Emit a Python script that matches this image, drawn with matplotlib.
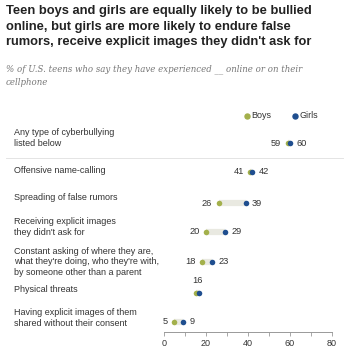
import matplotlib
matplotlib.use("Agg")
import matplotlib.pyplot as plt

categories = [
    "Any type of cyberbullying\nlisted below",
    "Offensive name-calling",
    "Spreading of false rumors",
    "Receiving explicit images\nthey didn't ask for",
    "Constant asking of where they are,\nwhat they're doing, who they're with,\nby someone other than a parent",
    "Physical threats",
    "Having explicit images of them\nshared without their consent",
]
boys = [59, 41, 26, 20, 18, 16, 5]
girls = [60, 42, 39, 29, 23, 16, 9]
xticks = [0, 20, 40, 60, 80]

BOY_C = "#a3b04b"
GIRL_C = "#1f4e8f"
LINE_C = "#e9e9e1"
TXT = "#333333"

W = H = 350
fig = plt.figure(figsize=(3.5, 3.5), dpi=100)
fig.patch.set_facecolor("white")

def fx(px):
    return px / W

def fy(py):
    return 1 - py / H

# axes geometry (pixels)
ax_left, ax_right = 164, 331.7
ax_bottom_px, ax_top_px = 332, 130
row_px = [143, 172, 203, 232, 262, 293, 322]
label_px = [138, 170, 197, 227, 262, 289, 318]
n = len(categories)
row_top_px, row_bot_px = row_px[0], row_px[-1]
step = (row_bot_px - row_top_px) / (n - 1)
ylo = -(ax_bottom_px - row_bot_px) / step
yhi = (n - 1) + (row_top_px - ax_top_px) / step

def ydata(py):
    return (n - 1) - (py - row_top_px) / step

ax = fig.add_axes([fx(ax_left), fy(ax_bottom_px), fx(ax_right - ax_left),
                   (ax_bottom_px - ax_top_px) / H])
ax.set_xlim(0, 80)
ax.set_ylim(ylo, yhi)
ax.patch.set_alpha(0)
for s in ["top", "right", "left"]:
    ax.spines[s].set_visible(False)
ax.spines["bottom"].set_color("#999999")
ax.spines["bottom"].set_linewidth(0.7)
ax.set_yticks([])
ax.set_xticks(xticks)
ax.set_xticks(range(0, 81, 10), minor=True)
ax.tick_params(axis="x", which="both", length=3, width=0.6, color="#999999",
               labelsize=6.5, labelcolor=TXT, pad=2)
for lab in ax.get_xticklabels():
    lab.set_fontfamily("Liberation Sans")

fs = 6.5
for i, (cat, b, g) in enumerate(zip(categories, boys, girls)):
    y = ydata(row_px[i])
    # when values tie, nudge the two dots apart so both stay visible
    jit = 0.5 if b == g else 0.0
    bx, gx = b - jit, g + jit
    lo, hi = min(bx, gx), max(bx, gx)
    ax.plot([lo, hi], [y, y], color=LINE_C, lw=4.5, solid_capstyle="butt", zorder=1)
    ax.scatter([bx], [y], s=16, color=BOY_C, zorder=3, linewidths=0)
    ax.scatter([gx], [y], s=16, color=GIRL_C, zorder=4, linewidths=0)
    if b == g:
        ax.text(b, y + 0.28, f"{b}", ha="center", va="bottom",
                fontsize=fs + 0.2, color=TXT, family="Liberation Sans")
    else:
        ax.text(b - 3, y, f"{b}", ha="right", va="center", fontsize=fs + 0.2,
                color=TXT, family="Liberation Sans")
        ax.text(g + 3, y, f"{g}", ha="left", va="center", fontsize=fs + 0.2,
                color=TXT, family="Liberation Sans")
    fig.text(fx(14), fy(label_px[i]), cat, ha="left", va="center", fontsize=fs,
             color=TXT, family="Liberation Sans", linespacing=1.2)

# separator line
fig.add_artist(plt.Line2D([fx(6), fx(343)], [fy(158), fy(158)], color="#e4e4e4", lw=0.7))

# legend
fig.add_artist(plt.Line2D([fx(247)], [fy(116)], marker="o", ms=3.6, color=BOY_C, lw=0))
fig.text(fx(251), fy(116), "Boys", ha="left", va="center", fontsize=fs, color=TXT,
         family="Liberation Sans")
fig.add_artist(plt.Line2D([fx(295)], [fy(116)], marker="o", ms=3.6, color=GIRL_C, lw=0))
fig.text(fx(299), fy(116), "Girls", ha="left", va="center", fontsize=fs, color=TXT,
         family="Liberation Sans")

# title and subtitle
fig.text(fx(6), fy(5), "Teen boys and girls are equally likely to be bullied\n"
         "online, but girls are more likely to endure false\n"
         "rumors, receive explicit images they didn't ask for",
         ha="left", va="top", fontsize=9.3, fontweight="bold", color="#222222",
         family="Liberation Sans", linespacing=1.4)
fig.text(fx(6), fy(64), "% of U.S. teens who say they have experienced __ online or on their\n"
         "cellphone", ha="left", va="top", fontsize=6.2, style="italic", color="#777777",
         family="DejaVu Serif", linespacing=1.6)

fig.savefig("out.png", dpi=100, facecolor="white")
